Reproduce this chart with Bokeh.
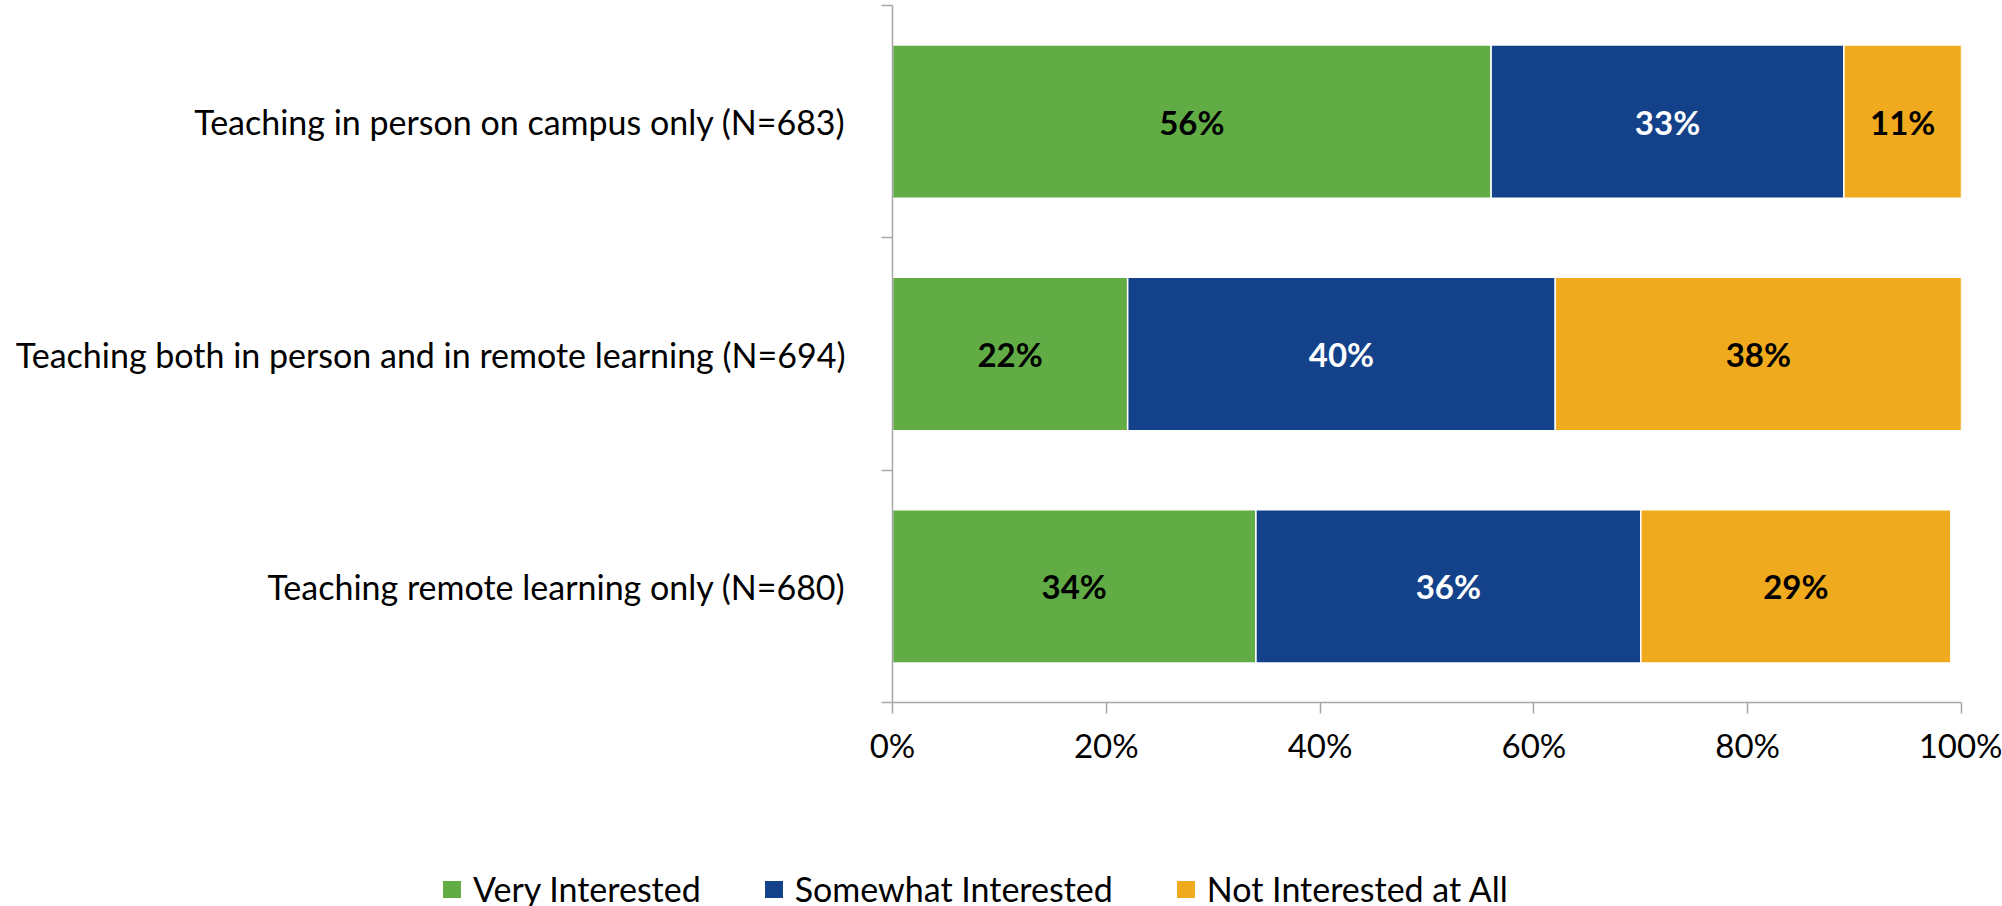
from bokeh.plotting import figure
from bokeh.models import Range1d, FixedTicker, ColumnDataSource, Div
from bokeh.layouts import column
from bokeh.core.properties import value
from bokeh.embed import file_html
from bokeh.resources import INLINE

categories = [
    "Teaching in person on campus only (N=683)",
    "Teaching both in person and in remote learning (N=694)",
    "Teaching remote learning only (N=680)",
]
very_interested = [56, 22, 34]
somewhat_interested = [33, 40, 36]
not_interested = [11, 38, 29]
series_names = ["Very Interested", "Somewhat Interested", "Not Interested at All"]
colors = ["#62AC46", "#13428A", "#F0AA1E"]
label_colors = ["black", "white", "black"]
x_ticks = [0, 20, 40, 60, 80, 100]

FONT = "Lato"
W = 2002
H_MAIN = 826
H_LEG = 80
BL, BR = 892, 41
n = len(categories)
# top category first
ypos = [n - 0.5 - i for i in range(n)]

p = figure(width=W, height=H_MAIN, output_backend="svg", toolbar_location=None,
           x_range=Range1d(0, 100), y_range=Range1d(0, n),
           min_border_left=BL, min_border_right=BR, min_border_top=5,
           min_border_bottom=124)
p.outline_line_color = None
p.grid.grid_line_color = None
p.background_fill_color = "white"
p.border_fill_color = "white"

series = [very_interested, somewhat_interested, not_interested]
left = [0] * n
for vals, name, col, lc in zip(series, series_names, colors, label_colors):
    right = [l + v for l, v in zip(left, vals)]
    src = ColumnDataSource(dict(y=ypos, left=left, right=right,
                                xc=[(l + r) / 2 for l, r in zip(left, right)],
                                lab=[f"{v}%" for v in vals]))
    p.hbar(y="y", left="left", right="right", height=0.66, source=src,
           fill_color=col, line_color="white", line_width=1.5)
    p.text(x="xc", y="y", text="lab", source=src, text_align="center",
           text_baseline="middle", text_font=value(FONT), text_font_style="bold",
           text_font_size="33px", text_color=lc)
    left = right

axis_color = "#A6A6A6"
# x axis
xa = p.xaxis[0]
xa.ticker = FixedTicker(ticks=x_ticks)
xa.major_label_overrides = {t: f"{t}%" for t in x_ticks}
xa.axis_line_color = axis_color
xa.axis_line_width = 1.5
xa.major_tick_line_color = axis_color
xa.major_tick_line_width = 1.5
xa.major_tick_out = 11
xa.major_tick_in = 0
xa.minor_tick_line_color = None
xa.major_label_text_font = FONT
xa.major_label_text_font_size = "33px"
xa.major_label_text_color = "black"
xa.major_label_standoff = 11

# y axis
ya = p.yaxis[0]
ya.ticker = FixedTicker(ticks=ypos, minor_ticks=[float(i) for i in range(n + 1)])
ya.major_label_overrides = {y: c for y, c in zip(ypos, categories)}
ya.axis_line_color = axis_color
ya.axis_line_width = 1.5
ya.major_tick_line_color = None
ya.major_tick_out = 0
ya.major_tick_in = 0
ya.minor_tick_line_color = axis_color
ya.minor_tick_line_width = 1.5
ya.minor_tick_out = 11
ya.minor_tick_in = 0
ya.major_label_text_font = FONT
ya.major_label_text_font_size = "34px"
ya.major_label_text_color = "black"
ya.major_label_standoff = 36

# legend row below the chart
parts = []
for i, (name, col) in enumerate(zip(series_names, colors)):
    gap = "0" if i == len(series_names) - 1 else "64px"
    parts.append(
        f'<span style="display:inline-block;width:18px;height:17px;'
        f'background:{col};margin-right:12px;flex:none;"></span>'
        f'<span style="font-family:{FONT};font-size:34px;color:black;'
        f'white-space:nowrap;margin-right:{gap};">{name}</span>'
    )
legend_html = (
    '<div style="display:flex;align-items:center;height:40px;'
    f'margin-top:43px;padding-left:443px;">' + "".join(parts) + "</div>"
)
legend_div = Div(text=legend_html, width=W, height=H_LEG,
                 styles={"margin": "0", "padding": "0"})

open("out.html", "w").write(file_html(column(p, legend_div, spacing=0), INLINE))
